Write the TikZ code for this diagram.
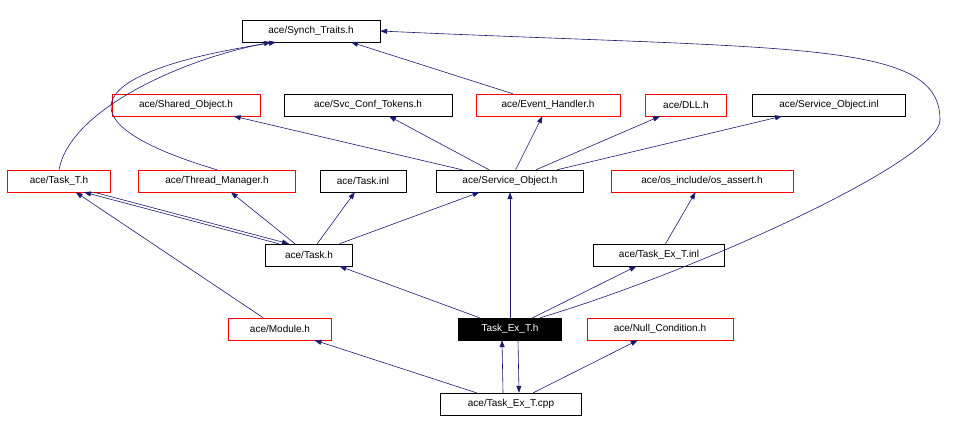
\documentclass[tikz,border=0pt]{standalone}
\usepackage{fontspec}
\setmainfont{Liberation Sans}
\usetikzlibrary{arrows.meta}
\begin{document}
\begin{tikzpicture}[x=1pt,y=-1pt,
 n/.style={draw=black,fill=white,inner sep=0pt,minimum height=22pt,font=\fontsize{10}{11}\selectfont},
 r/.style={n,draw=red},
 e/.style={draw=midnightblue,-{Triangle[length=7pt,width=5pt]},line width=0.6pt}]
\definecolor{midnightblue}{RGB}{25,25,112}
\useasboundingbox (0,0) rectangle (978,426);
\node[n,minimum width=138pt] (st) at (311,31) {ace/Synch\_Traits.h};
\node[r,minimum width=148pt] (so) at (186,105) {ace/Shared\_Object.h};
\node[n,minimum width=168pt] (sct) at (368,105) {ace/Svc\_Conf\_Tokens.h};
\node[r,minimum width=144pt] (eh) at (548,105) {ace/Event\_Handler.h};
\node[r,minimum width=81pt] (dll) at (686,105) {ace/DLL.h};
\node[n,minimum width=153pt] (soi) at (829,105) {ace/Service\_Object.inl};
\node[r,minimum width=103pt] (tt) at (59,181) {ace/Task\_T.h};
\node[r,minimum width=157pt] (tm) at (217,181) {ace/Thread\_Manager.h};
\node[n,minimum width=86pt] (ti) at (363,181) {ace/Task.inl};
\node[n,minimum width=147pt] (soh) at (510,181) {ace/Service\_Object.h};
\node[r,minimum width=182pt] (oa) at (702,181) {ace/os\_include/os\_assert.h};
\node[n,minimum width=87pt] (th) at (309,255) {ace/Task.h};
\node[n,minimum width=131pt] (tei) at (659,255) {ace/Task\_Ex\_T.inl};
\node[r,minimum width=103pt] (mod) at (280,329) {ace/Module.h};
\node[n,fill=black,text=white,minimum width=103pt] (teh) at (510,329) {Task\_Ex\_T.h};
\node[r,minimum width=146pt] (nc) at (660,329) {ace/Null\_Condition.h};
\node[n,minimum width=141pt] (cpp) at (511,404) {ace/Task\_Ex\_T.cpp};

\draw[e] (cpp) -- (mod);
\draw[e] ([xshift=-8pt]cpp.north) -- ([xshift=-8pt]teh.south);
\draw[e] ([xshift=8pt]teh.south) -- ([xshift=8pt]cpp.north);
\draw[e] (cpp) -- (nc);
\draw[e] (teh) -- (th);
\draw[e] (teh) -- (soh);
\draw[e] (teh) -- (tei);
\draw[e] ([xshift=30pt]teh.north) .. controls (700,270) and (940,160) .. (940,120) .. controls (940,40) and (800,50) .. (st.east);
\draw[e] (tei) -- (oa);
\draw[e] ([xshift=-30pt]th.north) -- ([xshift=25pt]tt.south);
\draw[e] ([xshift=35pt]tt.south) -- ([xshift=-20pt]th.north);
\draw[e] (th) -- (tm);
\draw[e] (th) -- (ti);
\draw[e] (th) -- (soh);
\draw[e] (mod) -- (tt);
\draw[e] (tt.north) .. controls (70,110) and (180,60) .. ([xshift=-40pt]st.south);
\draw[e] (tm.north) .. controls (50,120) and (90,70) .. ([xshift=-35pt]st.south);
\draw[e] (soh) -- (so);
\draw[e] (soh) -- (sct);
\draw[e] (soh) -- (eh);
\draw[e] (soh) -- (dll);
\draw[e] (soh) -- (soi);
\draw[e] (eh) -- ([xshift=40pt]st.south);
\end{tikzpicture}
\end{document}
